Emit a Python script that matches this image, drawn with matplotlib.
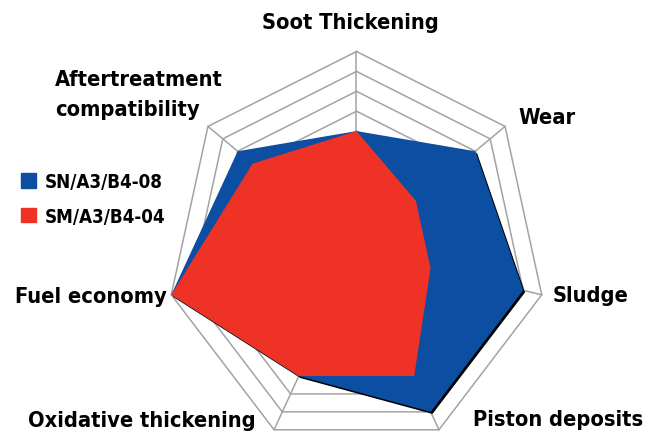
import numpy as np
import matplotlib
matplotlib.use('Agg')
import matplotlib.pyplot as plt
import matplotlib.patheffects as pe
from matplotlib.patches import Patch
from matplotlib import font_manager

# data
categories = ['Soot Thickening', 'Wear', 'Sludge', 'Piston deposits',
              'Oxidative thickening', 'Fuel economy', 'Aftertreatment\ncompatibility']
sn_values = [6, 8, 9, 9, 7, 10, 8]
sm_values = [6, 4, 4, 7, 7, 10, 7]
series_names = ['SN/A3/B4-08', 'SM/A3/B4-04']
ring_levels = list(range(1, 11))

blue = '#0b4ea2'
red = '#ee3226'
grid_col = '#a3a3a3'

# look for a narrow / condensed bold face, else plain DejaVu a bit smaller
narrow = None
for f in font_manager.fontManager.ttflist:
    cond = 'Narrow' in f.name or 'Condensed' in f.name or 'condensed' in str(f.stretch)
    if cond and f.weight in ('bold', 700, 'heavy') and f.style == 'normal':
        narrow = f.fname
        break

if narrow:
    lab_font = font_manager.FontProperties(fname=narrow, size=15.7)
    leg_font = font_manager.FontProperties(fname=narrow, size=13.5)
else:
    lab_font = font_manager.FontProperties(family='DejaVu Sans', weight='bold', size=14)
    leg_font = font_manager.FontProperties(family='DejaVu Sans', weight='bold', size=12.5)

W, H = 658, 439
fig = plt.figure(figsize=(W / 100, H / 100), dpi=100)
ax = fig.add_axes([0, 0, 1, 1])

# pixel layout -> data limits (centre and radius in px, unit = 1 level)
cx, cy, rx, ry = 356.5, 251.5, 19.0, 19.9
ax.set_xlim(-cx / rx, (W - cx) / rx)
ax.set_ylim((cy - H) / ry, cy / ry)
ax.axis('off')

n = len(categories)
ang = np.pi / 2 - 2 * np.pi * np.arange(n) / n


def xy(vals):
    v = np.asarray(vals, dtype=float)
    x = v * np.cos(ang)
    y = v * np.sin(ang)
    return np.append(x, x[0]), np.append(y, y[0])


# grid rings and spokes
for lv in ring_levels:
    gx, gy = xy([lv] * n)
    ax.plot(gx, gy, color=grid_col, lw=1.1, zorder=1)
for a in ang:
    ax.plot([0, 10 * np.cos(a)], [0, 10 * np.sin(a)], color=grid_col, lw=1.1, zorder=1)

# series
bx, by = xy(sn_values)
ax.fill(bx, by, color=blue, lw=0, zorder=2,
        path_effects=[pe.SimplePatchShadow(offset=(1.3, -1.5), shadow_rgbFace='black', alpha=1),
                      pe.Normal()])
mx, my = xy(sm_values)
ax.fill(mx, my, color=red, lw=0, zorder=3)

# axis labels (pixel positions)
lab_pos = [(350, 23, 'center'), (518, 118, 'left'), (553, 296, 'left'),
           (473, 420, 'left'), (28, 421, 'left'), (15, 297, 'left'), (55, 95, 'left')]
for name, (px, py, ha) in zip(categories, lab_pos):
    fig.text(px / W, 1 - py / H, name, ha=ha, va='center', fontproperties=lab_font,
             linespacing=1.6)

# legend
handles = [Patch(color=blue, label=series_names[0]), Patch(color=red, label=series_names[1])]
leg = ax.legend(handles=handles, loc='upper left', bbox_to_anchor=(4 / W, 1 - 156 / H),
                bbox_transform=fig.transFigure, frameon=False,
                handlelength=0.8, handleheight=0.8, handletextpad=0.45, labelspacing=0.85,
                prop=leg_font)

fig.savefig('out.png', dpi=100)
